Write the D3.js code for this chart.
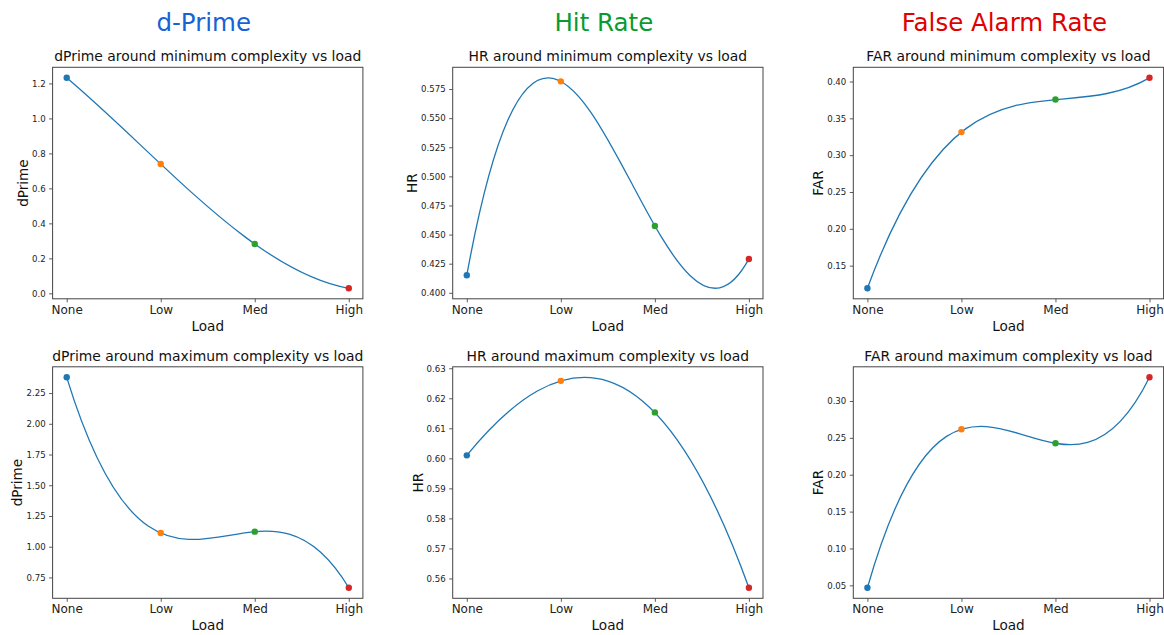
<!DOCTYPE html>
<html>
<head>
<meta charset="utf-8">
<script src="https://cdn.jsdelivr.net/npm/d3@7"></script>
<style>
  body { margin: 0; background: #fff; }
  svg { font-family: "DejaVu Sans", sans-serif; display: block; }
</style>
</head>
<body>
<svg id="chart" width="1164" height="635"></svg>
<script>
// x categories (load levels)
var loads = ["None", "Low", "Med", "High"];
var dotColors = ["#1f77b4", "#ff7f0e", "#2ca02c", "#d62728"];

// column headers
var headers = ["d-Prime", "Hit Rate", "False Alarm Rate"];
var headerColors = ["#1662d6", "#0a9a30", "#e00000"];

// values (top row = minimum complexity, bottom row = maximum)
var dPrimeMin = [1.232, 0.739, 0.282, 0.029];
var hrMin     = [0.4151, 0.5816, 0.4574, 0.4291];
var farMin    = [0.1193, 0.3313, 0.3755, 0.4050];
var dPrimeMax = [2.378, 1.111, 1.1225, 0.666];
var hrMax     = [0.6010, 0.6258, 0.6153, 0.5569];
var farMax    = [0.0467, 0.2616, 0.2426, 0.3321];

// y tick labels per panel
var ticksDPrimeMin = [0.0, 0.2, 0.4, 0.6, 0.8, 1.0, 1.2];
var ticksHrMin     = [0.400, 0.425, 0.450, 0.475, 0.500, 0.525, 0.550, 0.575];
var ticksFarMin    = [0.15, 0.20, 0.25, 0.30, 0.35, 0.40];
var ticksDPrimeMax = [0.75, 1.00, 1.25, 1.50, 1.75, 2.00, 2.25];
var ticksHrMax     = [0.56, 0.57, 0.58, 0.59, 0.60, 0.61, 0.62, 0.63];
var ticksFarMax    = [0.05, 0.10, 0.15, 0.20, 0.25, 0.30];

var panels = [
  { title: "dPrime around minimum complexity vs load", ylab: "dPrime", vals: dPrimeMin, ticks: ticksDPrimeMin, fmt: ".1f", col: 0, row: 0 },
  { title: "HR around minimum complexity vs load",     ylab: "HR",     vals: hrMin,     ticks: ticksHrMin,     fmt: ".3f", col: 1, row: 0 },
  { title: "FAR around minimum complexity vs load",    ylab: "FAR",    vals: farMin,    ticks: ticksFarMin,    fmt: ".2f", col: 2, row: 0 },
  { title: "dPrime around maximum complexity vs load", ylab: "dPrime", vals: dPrimeMax, ticks: ticksDPrimeMax, fmt: ".2f", col: 0, row: 1 },
  { title: "HR around maximum complexity vs load",     ylab: "HR",     vals: hrMax,     ticks: ticksHrMax,     fmt: ".2f", col: 1, row: 1 },
  { title: "FAR around maximum complexity vs load",    ylab: "FAR",    vals: farMax,    ticks: ticksFarMax,    fmt: ".2f", col: 2, row: 1 }
];

// layout
var colLeft = [52.6, 452.7, 853.3];
var rowTop = [67.3, 366.8];
var pw = 310.3, ph = 231.5;

// custom curve: the single cubic through 4 evenly spaced points, as one bezier
function curveCubicFit(context) {
  var pts;
  return {
    areaStart: function () {}, areaEnd: function () {},
    lineStart: function () { pts = []; },
    point: function (x, y) { pts.push([+x, +y]); },
    lineEnd: function () {
      if (pts.length !== 4) {
        pts.forEach(function (p, i) { i ? context.lineTo(p[0], p[1]) : context.moveTo(p[0], p[1]); });
        return;
      }
      var y0 = pts[0][1], y1 = pts[1][1], y2 = pts[2][1], y3 = pts[3][1];
      var A = 27 * y1 - 8 * y0 - y3, B = 27 * y2 - y0 - 8 * y3;
      var c1 = (2 * A - B) / 18, c2 = (2 * B - A) / 18;
      var x0 = pts[0][0], x3 = pts[3][0];
      context.moveTo(x0, y0);
      context.bezierCurveTo(x0 + (x3 - x0) / 3, c1, x0 + 2 * (x3 - x0) / 3, c2, x3, y3);
    }
  };
}

// extent of that cubic (for matplotlib-like autoscale incl. the curve)
function cubicExtent(v) {
  var a = v[0], b = v[1] - v[0], c = (v[2] - 2 * v[1] + v[0]) / 2, d = (v[3] - 3 * v[2] + 3 * v[1] - v[0]) / 6;
  var p = function (x) { return a + b * x + c * x * (x - 1) + d * x * (x - 1) * (x - 2); };
  var k3 = d, k2 = c - 3 * d, k1 = b - c + 2 * d;
  var cand = v.slice();
  var qa = 3 * k3, qb = 2 * k2, qc = k1;
  if (Math.abs(qa) > 1e-12) {
    var disc = qb * qb - 4 * qa * qc;
    if (disc >= 0) {
      [(-qb + Math.sqrt(disc)) / (2 * qa), (-qb - Math.sqrt(disc)) / (2 * qa)].forEach(function (r) {
        if (r > 0 && r < 3) cand.push(p(r));
      });
    }
  } else if (Math.abs(qb) > 1e-12) {
    var r = -qc / qb;
    if (r > 0 && r < 3) cand.push(p(r));
  }
  return d3.extent(cand);
}

var svg = d3.select("#chart");

headers.forEach(function (h, i) {
  svg.append("text")
    .attr("x", colLeft[i] + pw / 2 - 4)
    .attr("y", 31)
    .attr("text-anchor", "middle")
    .attr("font-size", 24.5)
    .attr("fill", headerColors[i])
    .text(h);
});

panels.forEach(function (p) {
  var left = colLeft[p.col], top = rowTop[p.row];
  var g = svg.append("g").attr("transform", "translate(" + left + "," + top + ")");

  var x = d3.scalePoint().domain(loads).range([0, pw]).padding(0.15);
  var ext = cubicExtent(p.vals);
  var pad = (ext[1] - ext[0]) * 0.05;
  var y = d3.scaleLinear().domain([ext[0] - pad, ext[1] + pad]).range([ph, 0]);

  // y axis
  var ya = g.append("g")
    .call(d3.axisLeft(y).tickValues(p.ticks).tickFormat(d3.format(p.fmt)).tickSize(3.5).tickPadding(3.5));
  ya.select(".domain").remove();
  ya.selectAll("line").attr("stroke", "#333").attr("stroke-width", 0.8);
  ya.selectAll("text").attr("font-size", 8.6).attr("fill", "#222").attr("font-family", "DejaVu Sans");

  // x axis
  var xa = g.append("g").attr("transform", "translate(0," + ph + ")")
    .call(d3.axisBottom(x).tickSize(3.5).tickPadding(3));
  xa.select(".domain").remove();
  xa.selectAll("line").attr("stroke", "#333").attr("stroke-width", 0.8);
  xa.selectAll("text").attr("font-size", 12).attr("fill", "#222").attr("font-family", "DejaVu Sans");

  // curve
  var line = d3.line()
    .x(function (d, i) { return x(loads[i]); })
    .y(function (d) { return y(d); })
    .curve(curveCubicFit);
  g.append("path")
    .datum(p.vals)
    .attr("d", line)
    .attr("fill", "none")
    .attr("stroke", "#1f77b4")
    .attr("stroke-width", 1.3);

  // dots
  g.selectAll("circle.dot")
    .data(p.vals)
    .enter().append("circle")
    .attr("class", "dot")
    .attr("cx", function (d, i) { return x(loads[i]); })
    .attr("cy", function (d) { return y(d); })
    .attr("r", 3.2)
    .attr("fill", function (d, i) { return dotColors[i]; });

  // frame
  g.append("rect")
    .attr("width", pw).attr("height", ph)
    .attr("fill", "none")
    .attr("stroke", "#444")
    .attr("stroke-width", 1);

  // title
  g.append("text")
    .attr("x", pw / 2).attr("y", -6)
    .attr("text-anchor", "middle")
    .attr("font-size", 13.9)
    .attr("fill", "#111")
    .text(p.title);

  // x label
  g.append("text")
    .attr("x", pw / 2).attr("y", ph + 32)
    .attr("text-anchor", "middle")
    .attr("font-size", 13.6)
    .attr("fill", "#111")
    .text("Load");

  // y label, placed left of the tick labels
  var bb = ya.node().getBBox();
  g.append("text")
    .attr("transform", "translate(" + (bb.x - 4) + "," + (ph / 2) + ") rotate(-90)")
    .attr("text-anchor", "middle")
    .attr("font-size", 13.6)
    .attr("fill", "#111")
    .text(p.ylab);
});
</script>
</body>
</html>
